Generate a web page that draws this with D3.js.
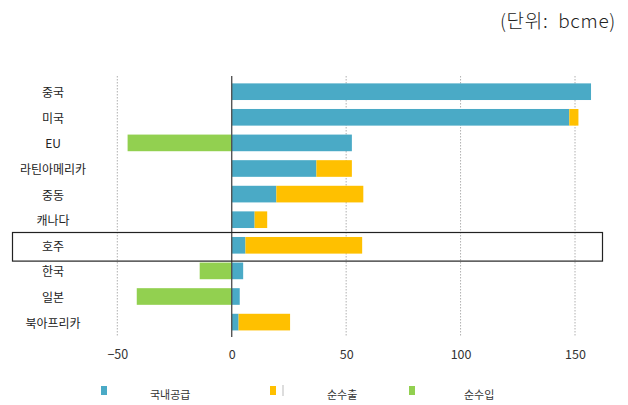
<!DOCTYPE html>
<html>
<head>
<meta charset="utf-8">
<script src="https://cdn.jsdelivr.net/npm/d3@7/dist/d3.min.js"></script>
<style>
  html, body { margin: 0; padding: 0; background: #fff; }
  svg { display: block; font-family: "Noto Sans CJK KR", "Noto Sans", sans-serif; }
</style>
</head>
<body>
<svg id="chart" width="628" height="405"></svg>
<script>
// Gas balance by region (bcme)
const regions = ["중국", "미국", "EU", "라틴아메리카", "중동", "캐나다", "호주", "한국", "일본", "북아프리카"];
const domesticSupply = [157, 147.5, 52.5, 37, 19.5, 10, 6, 5, 3.5, 3];
const netExport      = [0, 4, 0, 15.5, 38, 5.5, 51, 0, 0, 22.5];
const netImport      = [0, 0, -45.5, 0, 0, 0, 0, -14, -41.5, 0];
const tickValues = [-50, 0, 50, 100, 150];
const seriesNames = ["국내공급", "순수출", "순수입"];
const seriesColors = ["#4aaac6", "#ffc000", "#92d050"];
const highlighted = "호주";

const svg = d3.select("#chart");

const x = d3.scaleLinear().domain([-50, 150]).range([117.3, 575]);
const y = d3.scaleBand().domain(regions).range([78.9, 334.9])
  .paddingInner(0.35).paddingOuter(0.175);

const gridTop = 76, gridBottom = 337;

// dotted vertical gridlines
svg.append("g").selectAll("line")
  .data(tickValues.filter(v => v !== 0))
  .join("line")
  .attr("x1", d => x(d)).attr("x2", d => x(d))
  .attr("y1", gridTop).attr("y2", gridBottom)
  .attr("stroke", "#b0b0b0").attr("stroke-width", 1)
  .attr("stroke-dasharray", "1.5,1.5");

const rows = regions.map((r, i) => ({
  region: r, supply: domesticSupply[i], exp: netExport[i], imp: netImport[i]
}));

const bars = svg.append("g");
// domestic supply, from zero
bars.selectAll("rect.supply").data(rows).join("rect")
  .attr("class", "supply")
  .attr("x", x(0)).attr("y", d => y(d.region))
  .attr("width", d => x(d.supply) - x(0)).attr("height", y.bandwidth())
  .attr("fill", seriesColors[0]);
// net export, stacked after supply
bars.selectAll("rect.exp").data(rows.filter(d => d.exp > 0)).join("rect")
  .attr("class", "exp")
  .attr("x", d => x(d.supply)).attr("y", d => y(d.region))
  .attr("width", d => x(d.supply + d.exp) - x(d.supply)).attr("height", y.bandwidth())
  .attr("fill", seriesColors[1]);
// net import, negative side
bars.selectAll("rect.imp").data(rows.filter(d => d.imp < 0)).join("rect")
  .attr("class", "imp")
  .attr("x", d => x(d.imp)).attr("y", d => y(d.region))
  .attr("width", d => x(0) - x(d.imp)).attr("height", y.bandwidth())
  .attr("fill", seriesColors[2]);

// zero line
svg.append("line")
  .attr("x1", x(0)).attr("x2", x(0))
  .attr("y1", gridTop).attr("y2", gridBottom)
  .attr("stroke", "#4a4a4a").attr("stroke-width", 1.3);

// category labels
svg.append("g").selectAll("text").data(regions).join("text")
  .attr("x", 53).attr("y", d => y(d) + y.bandwidth() / 2)
  .attr("text-anchor", "middle").attr("dominant-baseline", "central")
  .attr("font-size", 12).attr("fill", "#222")
  .text(d => d);

// highlight box
svg.append("rect")
  .attr("x", 12.5).attr("y", y(highlighted) + y.bandwidth() / 2 - y.step() / 2)
  .attr("width", 590).attr("height", y.step() + 3)
  .attr("fill", "none").attr("stroke", "#222").attr("stroke-width", 1.2);

// x axis labels
const axis = d3.axisBottom(x).tickValues(tickValues).tickSize(0).tickPadding(0)
  .tickFormat(d3.format("d"));
const ax = svg.append("g").attr("transform", "translate(0,350)").call(axis);
ax.select(".domain").remove();
ax.selectAll("text").attr("font-size", 12.5).attr("fill", "#333")
  .attr("font-family", "'Noto Sans CJK KR', sans-serif");

// legend
const legendX = [101, 270, 409];
const legendTextX = [150, 327, 464];
const lg = svg.append("g");
seriesNames.forEach((name, i) => {
  lg.append("rect").attr("x", legendX[i]).attr("y", 386)
    .attr("width", 6).attr("height", 9).attr("fill", seriesColors[i]);
  lg.append("text").attr("x", legendTextX[i]).attr("y", 394)
    .attr("dominant-baseline", "central")
    .attr("font-size", 11).attr("fill", "#333").text(name);
});
lg.append("line").attr("x1", 283).attr("x2", 283).attr("y1", 385).attr("y2", 396)
  .attr("stroke", "#bbb").attr("stroke-width", 1);

// unit note
svg.append("text").attr("x", 616).attr("y", 19)
  .attr("text-anchor", "end").attr("dominant-baseline", "central")
  .attr("font-size", 19).attr("font-weight", 300).attr("letter-spacing", 0.7)
  .attr("fill", "#222")
  .attr("xml:space", "preserve").style("white-space", "pre")
  .attr("font-family", "'Noto Sans CJK KR', 'Noto Sans', sans-serif")
  .text("(단위:  bcme)");
</script>
</body>
</html>
